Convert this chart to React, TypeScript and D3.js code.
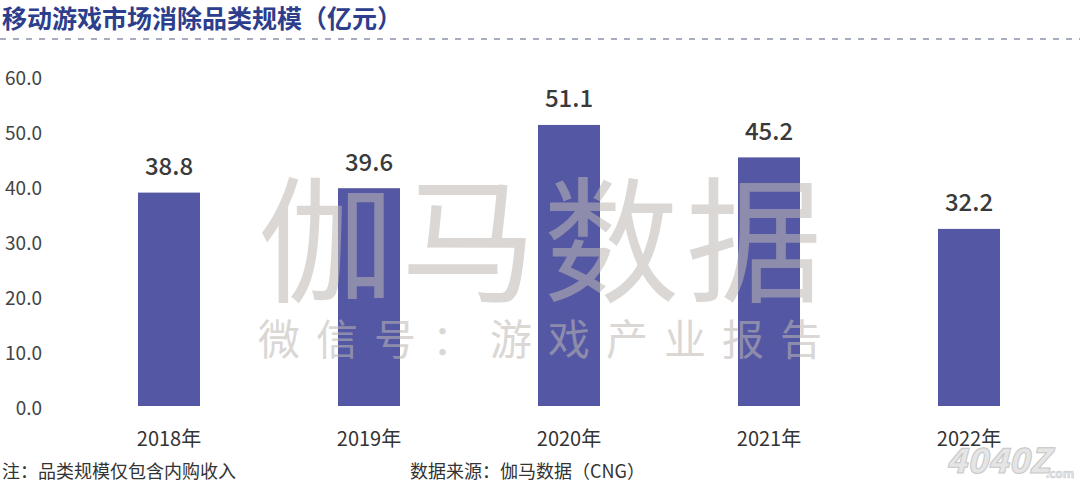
import React from "react";
import * as d3 from "d3";

const categories = ["2018年", "2019年", "2020年", "2021年", "2022年"];
const values = [38.8, 39.6, 51.1, 45.2, 32.2];
const yTicks = [0, 10, 20, 30, 40, 50, 60];
const title = "移动游戏市场消除品类规模（亿元）";
const note = "注：品类规模仅包含内购收入";
const source = "数据来源：伽马数据（CNG）";

const W = 1080;
const H = 482;
const FONT = "'Noto Sans CJK SC', 'Noto Sans', sans-serif";

export default function App() {
  const x = d3.scaleBand<string>().domain(categories).range([69, 1069]).paddingInner(0.69).paddingOuter(0.345);
  const y = d3.scaleLinear().domain([0, 60]).range([406, 76]);
  return (
    <svg width={W} height={H} style={{ position: "absolute", left: 0, top: 0, background: "#fff" }} fontFamily={FONT}>
      <rect width={W} height={H} fill="#fff" />
      <text x={2} y={17} dominantBaseline="central" fontSize={25} fontWeight={700} fill="#2c3e8c">{title}</text>
      <line x1={0} x2={W} y1={39} y2={39} stroke="#8a93a8" strokeWidth={1.3} strokeDasharray="6,7" />
      {yTicks.map((t) => (
        <text key={t} x={42} y={y(t)} textAnchor="end" dominantBaseline="central" fontSize={19} fill="#444">{t.toFixed(1)}</text>
      ))}
      {categories.map((c, i) => (
        <g key={c}>
          <rect x={x(c)} y={y(values[i])} width={x.bandwidth()} height={y(0) - y(values[i])} fill="#5457a4" />
          <text x={(x(c) as number) + x.bandwidth() / 2} y={y(values[i]) - 28} textAnchor="middle" dominantBaseline="central" fontSize={24} fontWeight={500} fill="#3a3a3a">{values[i].toFixed(1)}</text>
          <text x={(x(c) as number) + x.bandwidth() / 2} y={437} textAnchor="middle" dominantBaseline="central" fontSize={20} fill="#333">{c}</text>
        </g>
      ))}
      <g opacity={0.55} fill="#bdb8b3" fontWeight={400} pointerEvents="none">
        <text x={540} y={232} textAnchor="middle" dominantBaseline="central" fontSize={136} textLength={564} lengthAdjust="spacing">伽马数据</text>
        <text x={540} y={336} textAnchor="middle" dominantBaseline="central" fontSize={42} textLength={564} lengthAdjust="spacing">微信号：游戏产业报告</text>
      </g>
      <text x={2} y={470} dominantBaseline="central" fontSize={18} fill="#333">{note}</text>
      <text x={410} y={470} dominantBaseline="central" fontSize={18} fill="#333">{source}</text>
      <g opacity={0.55}>
        <text x={998} y={458} textAnchor="middle" dominantBaseline="central" fontSize={34} fontWeight={900} fill="#d0d0d0" stroke="#999" strokeWidth={1} fontStyle="italic">4040Z</text>
        <text x={1060} y={472} textAnchor="middle" dominantBaseline="central" fontSize={12} fontWeight={700} fill="#ccc" stroke="#999" strokeWidth={0.5}>.com</text>
      </g>
    </svg>
  );
}
